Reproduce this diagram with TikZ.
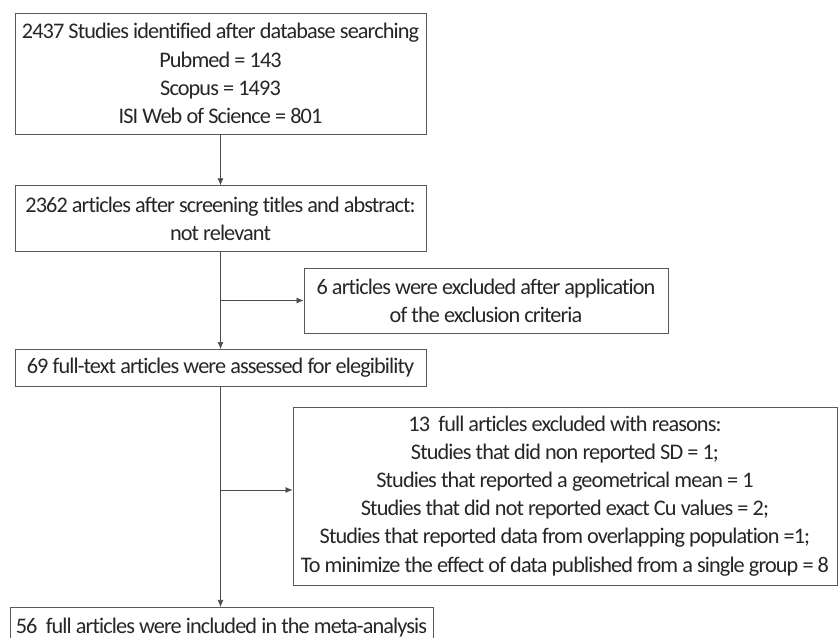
\documentclass[tikz,border=0pt]{standalone}
\usepackage{fontspec}
\setmainfont{Carlito}[Ligatures=NoCommon, LetterSpace=-4]
\usepackage{tikz}
\usetikzlibrary{positioning,arrows.meta}

\tikzset{
  flowbox/.style={draw=black!65, line width=0.6pt, text=black!85, align=center,
    inner sep=0pt, font=\fontsize{19}{24}\selectfont},
  flowline/.style={draw=black!70, line width=0.6pt},
  flowarrow/.style={flowline, -{Latex[length=6pt,width=5pt]}}
}

\begin{document}
\begin{tikzpicture}
  \useasboundingbox (0,0) rectangle (25.14,-19.14);
  \clip (0,0) rectangle (25.14,-19.14);

  % main column
  \node[flowbox, minimum width=12.33cm, minimum height=3.63cm] (search) at (6.615,-2.205)
    {2437 Studies identified after database searching\\
     Pubmed = 143\\ Scopus = 1493\\ ISI Web of Science = 801};
  \node[flowbox, minimum width=12.33cm, minimum height=1.98cm, below=1.53cm of search] (screen)
    {2362 articles after screening titles and abstract:\\ not relevant};
  \node[flowbox, minimum width=12.33cm, minimum height=1.11cm, below=2.91cm of screen] (fulltext)
    {69 full-text articles were assessed for elegibility};
  \node[flowbox, minimum width=12.69cm, minimum height=1.2cm, anchor=north] (included) at (6.645,-18.21)
    {56\ \ full articles were included in the meta-analysis};

  % exclusions
  \node[flowbox, minimum width=10.92cm, minimum height=1.95cm] (excl1) at (14.58,-9.015)
    {6 articles were excluded after application\\ of the exclusion criteria};
  \node[flowbox, minimum width=16.32cm, minimum height=5.34cm] (excl2) at (16.95,-14.88)
    {13\ \ full articles excluded with reasons:\\
     Studies that did non reported SD = 1;\\
     Studies that reported a geometrical mean = 1\\
     Studies that did not reported exact Cu values = 2;\\
     Studies that reported data from overlapping population =1;\\
     To minimize the effect of data published from a single group = 8};
  \coordinate (excl2in) at ([yshift=0.18cm]excl2.west);

  \draw[flowarrow] (search) -- (screen);
  \draw[flowarrow] (screen) -- (fulltext);
  \draw[flowarrow] (fulltext.south) -- (fulltext.south |- included.north);
  \draw[flowarrow] (screen.south |- excl1.west) -- (excl1.west);
  \draw[flowarrow] (fulltext.south |- excl2in) -- (excl2in);
\end{tikzpicture}
\end{document}
